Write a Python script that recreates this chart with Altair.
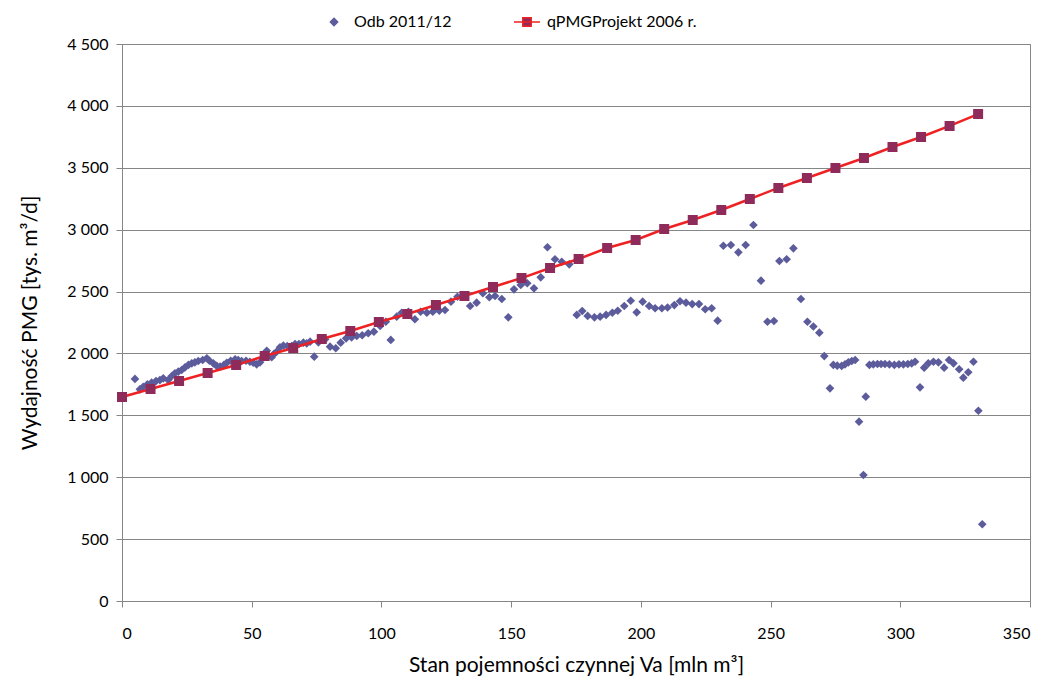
import altair as alt
import pandas as pd

scatter_x = [5.0, 6.9, 8.2, 9.8, 11.4, 13.1, 14.6, 15.9, 17.8, 19.2, 20.4, 21.7, 23.0, 24.3, 25.6, 26.9, 28.1, 29.4, 31.1, 32.7,
             33.7, 35.2, 36.5, 37.8, 39.3, 40.4, 41.9, 43.6, 44.8, 46.1, 47.8, 49.3, 50.6, 51.9, 53.2, 54.7, 55.8, 57.7, 58.6, 59.6,
             60.9, 62.2, 63.7, 65.4, 66.7, 68.2, 69.9, 71.2, 72.5, 74.1, 75.7, 78.3, 80.2, 82.4, 84.3, 86.4, 88.5, 90.5, 92.6, 94.9,
             97.1, 99.5, 101.7, 103.6, 105.9, 107.8, 110.4, 112.9, 115.1, 117.5, 119.8, 122.3, 124.5, 126.8, 129.3, 131.8, 134.2, 136.7, 139.1, 141.6,
             143.8, 146.4, 148.9, 151.1, 153.7, 156.2, 158.8, 161.4, 164.0, 166.9, 169.5, 172.4, 175.3, 177.4, 179.5, 182.1, 184.3, 186.6, 189.0, 191.1,
             193.6, 196.1, 198.4, 200.7, 203.2, 205.5, 208.1, 210.3, 212.9, 215.1, 217.4, 219.8, 222.4, 224.8, 227.3, 229.6, 231.8, 234.7, 237.6, 240.4,
             243.4, 246.3, 248.8, 251.3, 253.4, 256.2, 258.8, 261.7, 264.2, 266.5, 268.8, 270.7, 272.9, 274.2, 275.7, 277.4, 278.7, 280.0, 281.3, 282.6,
             284.1, 285.8, 286.7, 288.1, 289.6, 291.2, 292.6, 294.1, 295.8, 297.7, 299.5, 301.2, 302.9, 304.4, 305.7, 307.6, 309.2, 310.8, 312.8, 314.7,
             316.9, 318.8, 320.5, 322.7, 324.3, 326.2, 328.2, 330.1, 331.6]
scatter_y = [1794, 1710, 1731, 1751, 1764, 1777, 1785, 1799, 1785, 1818, 1840, 1853, 1866, 1888, 1907, 1920, 1928, 1939, 1947, 1961,
             1941, 1920, 1899, 1893, 1907, 1925, 1941, 1953, 1947, 1939, 1941, 1933, 1925, 1912, 1928, 1969, 2022, 1969, 1996, 2014,
             2050, 2063, 2060, 2060, 2076, 2076, 2087, 2082, 2095, 1974, 2090, 2114, 2055, 2042, 2087, 2122, 2130, 2141, 2147, 2163,
             2176, 2222, 2256, 2109, 2297, 2329, 2337, 2276, 2337, 2329, 2337, 2345, 2351, 2418, 2458, 2472, 2383, 2410, 2486, 2454,
             2464, 2440, 2292, 2518, 2553, 2567, 2526, 2615, 2858, 2761, 2741, 2720, 2311, 2343, 2303, 2292, 2297, 2311, 2329, 2345,
             2383, 2426, 2332, 2418, 2383, 2365, 2365, 2371, 2391, 2422, 2410, 2399, 2399, 2357, 2365, 2265, 2870, 2876, 2817, 2876,
             3038, 2588, 2256, 2262, 2747, 2761, 2849, 2440, 2256, 2218, 2168, 1979, 1718, 1907, 1901, 1899, 1912, 1928, 1939, 1947,
             1449, 1018, 1651, 1907, 1912, 1915, 1915, 1915, 1912, 1907, 1912, 1912, 1915, 1920, 1933, 1726, 1885, 1920, 1933, 1928,
             1885, 1947, 1920, 1872, 1804, 1848, 1933, 1537, 620]

line_x = [0, 11, 22, 33, 44, 55, 66, 77, 88, 99, 110, 121, 132, 143, 154, 165, 176, 187, 198, 209, 220, 231, 242, 253, 264,
          275, 286, 297, 308, 319, 330]
line_y = [1648, 1713, 1777, 1842, 1907, 1979, 2044, 2117, 2181, 2254, 2319, 2391, 2464, 2537, 2609, 2690, 2763, 2852, 2917,
          3005, 3078, 3159, 3248, 3337, 3417, 3498, 3579, 3668, 3749, 3838, 3934]

series_names = ["Odb 2011/12", "qPMGProjekt 2006 r."]
x_ticks = [0, 50, 100, 150, 200, 250, 300, 350]
y_ticks = [0, 500, 1000, 1500, 2000, 2500, 3000, 3500, 4000, 4500]

scatter_df = pd.DataFrame({"x": scatter_x, "y": scatter_y, "series": series_names[0]})
line_df = pd.DataFrame({"x": line_x, "y": line_y, "series": series_names[1]})

FONT = "Lato"
GRAY = "#868686"
fill_scale = alt.Scale(domain=series_names, range=["#5C5C9C", "#8E2B5B"])
stroke_scale = alt.Scale(domain=series_names, range=["#5C5C9C", "#EE2222"])
shape_scale = alt.Scale(domain=series_names,
                        range=["M0,-0.52L0.52,0L0,0.52L-0.52,0Z",
                               "M-1.86,0H1.86M-0.6,-0.6H0.6V0.6H-0.6Z"])

legend = alt.Legend(title=None, orient="none", direction="horizontal", columns=2,
                    legendX=204, legendY=-30, symbolSize=196, symbolStrokeWidth=1.5,
                    labelFont=FONT, labelFontSize=16, labelColor="black",
                    labelOffset=12, columnPadding=58)

x_enc = alt.X("x:Q", scale=alt.Scale(domain=[0, 350], nice=False),
              axis=alt.Axis(values=x_ticks, title="Stan pojemności czynnej Va [mln m³]", grid=False))
y_enc = alt.Y("y:Q", scale=alt.Scale(domain=[0, 4500], nice=False),
              axis=alt.Axis(values=y_ticks, title="Wydajność PMG [tys. m³/d]",
                            labelExpr="replace(format(datum.value, ',d'), ',', ' ')"))

points = alt.Chart(scatter_df).mark_point(filled=True, opacity=1, size=278, strokeWidth=0).encode(
    x=x_enc, y=y_enc,
    fill=alt.Fill("series:N", scale=fill_scale, legend=legend),
    stroke=alt.Stroke("series:N", scale=stroke_scale, legend=legend),
    shape=alt.Shape("series:N", scale=shape_scale, legend=legend),
)

line = alt.Chart(line_df).mark_line(color="#EE2222", strokeWidth=2.5).encode(x=x_enc, y=y_enc)

squares = alt.Chart(line_df).mark_point(filled=True, opacity=1, size=278, strokeWidth=0).encode(
    x=x_enc, y=y_enc,
    fill=alt.Fill("series:N", scale=fill_scale, legend=legend),
    stroke=alt.Stroke("series:N", scale=stroke_scale, legend=legend),
    shape=alt.Shape("series:N", scale=shape_scale, legend=legend),
)

chart = alt.layer(points, line, squares).properties(
    width=908, height=557,
    autosize=alt.AutoSizeParams(type="none"),
    padding={"left": 114, "top": 36, "right": 10, "bottom": 78},
).configure_view(stroke=GRAY, strokeWidth=1).configure_axis(
    labelFont=FONT, labelFontSize=16, labelColor="black",
    titleFont=FONT, titleFontSize=21, titleFontWeight="normal", titleColor="black",
    domainColor=GRAY, tickColor=GRAY, gridColor=GRAY, gridWidth=1,
    tickSize=6,
).configure_axisX(labelPadding=18, titlePadding=13).configure_axisY(labelPadding=8, titlePadding=26)

chart.save("out.html", embed_options={"renderer": "svg", "actions": False})
